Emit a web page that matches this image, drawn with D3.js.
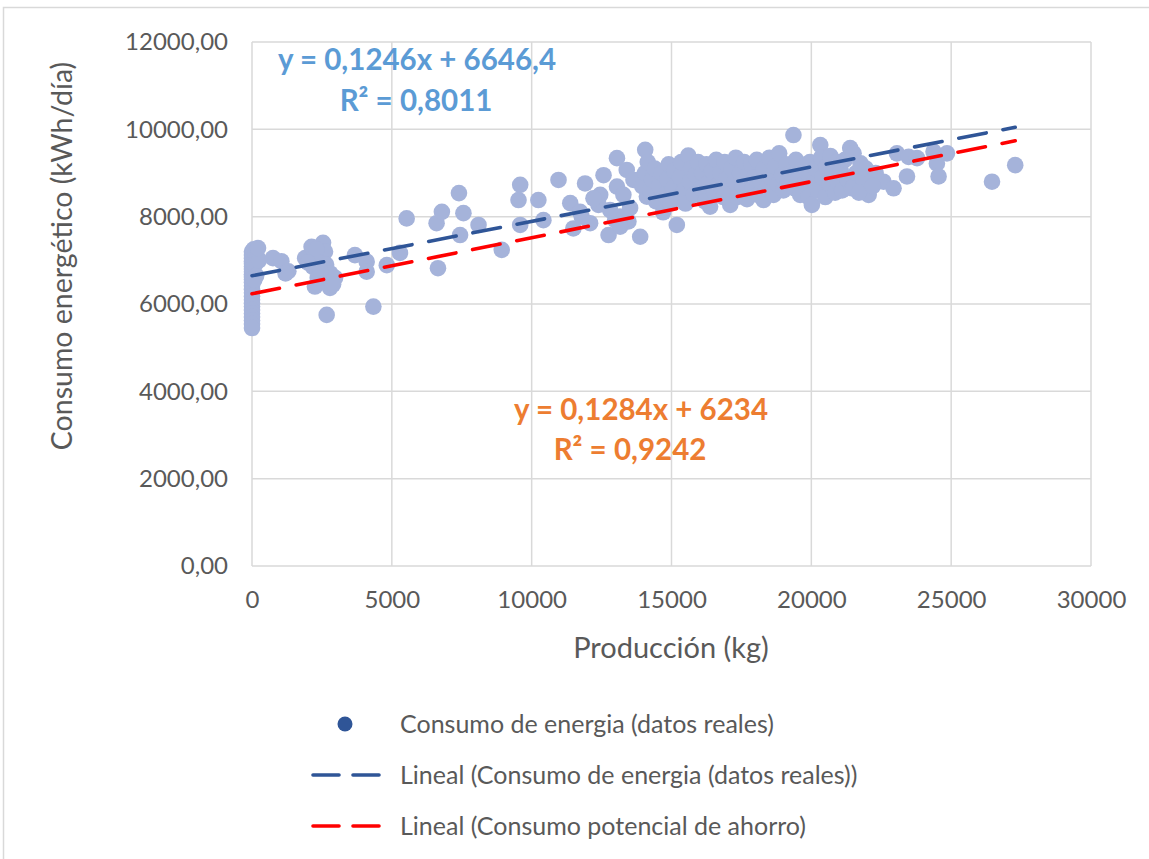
<!DOCTYPE html>
<html>
<head>
<meta charset="utf-8">
<script src="https://cdn.jsdelivr.net/npm/d3@7"></script>
<style>
  html, body { margin: 0; padding: 0; background: #ffffff; }
  svg { display: block; font-family: Lato, "Liberation Sans", sans-serif; }
</style>
</head>
<body>
<svg id="chart" width="1149" height="859"></svg>
<script>
// Producción (kg) de cada día
const production = [
  0, 0, 0, 0, 0, 0, 0, 0, 0, 0, 0, 0, 0, 0, 0, 0, 0, 0, 0, 0, 0, 0, 0, 0, 0,
  60, 120, 200, 100, 150, 80, 250, 215,
  750, 1050, 1300, 1200,
  1900, 2130, 2540, 2610, 2180, 2250, 2790, 2970, 2610, 2670, 2300, 2400, 2650, 2800, 2350, 2000, 2450, 2900,
  3680, 4100, 4100, 4340, 4820, 5530, 5290,
  6650, 6600, 6790, 7400, 7560, 7440, 8100,
  8930, 9590, 9530, 9590, 10240, 10420, 10960, 11380, 11490, 11910, 11790, 12090, 12570, 12450, 12750,
  13050, 13050, 13400, 13760, 13880, 13460, 14060, 14120, 13160, 12390, 12210, 11730,
  13640, 13280, 13520, 12985, 13164, 12806,
  13950, 14050, 14150, 14250, 14300, 14400, 14450, 14550, 14650, 14700, 14750, 14850, 14900, 14950,
  15050, 15100, 15190, 15200, 15300, 15350, 15450, 15500, 15600, 15650, 15700, 15800, 15850, 15950,
  16050, 16100, 16200, 16250, 16350, 16380, 16450, 16550, 16600, 16700, 16750, 16850, 16900, 16950,
  17050, 17100, 17150, 17250, 17300, 17350, 17450, 17550, 17600, 17700, 17750, 17850, 17900, 17950,
  18050, 18100, 18200, 18290, 18300, 18400, 18500, 18550, 18650, 18700, 18800, 18850, 18950, 19000,
  19100, 19150, 19250, 19360, 19400, 19450, 19550, 19600, 19700, 19750, 19850, 19900, 20020, 19950,
  20100, 20150, 20250, 20320, 20350, 20400, 20500, 20550, 20650, 20680, 20750, 20850, 20900, 20950,
  21050, 21100, 21200, 21300, 21390, 21450, 21510, 21510, 21600, 21760, 21870, 22050, 21700, 21950,
  22580, 22940, 23060, 23480, 23420, 23780, 24370, 24490, 24550, 24850, 22300, 22200,
  26460, 27290
];

// Consumo energético (kWh/día) de esos mismos días
const consumption = [
  7200, 7120, 7050, 6980, 6920, 6860, 6800, 6740, 6680, 6620, 6560, 6500, 6420, 6340, 6260, 6180, 6100, 6020, 5940, 5860, 5780, 5700, 5620, 5540, 5450,
  7250, 7150, 7050, 6900, 6650, 6550, 7000, 7280,
  7050, 6980, 6750, 6700,
  7050, 7310, 7400, 7200, 6850, 6400, 6370, 6600, 6600, 5750, 7250, 6950, 6900, 6700, 6600, 6950, 6750, 6450,
  7120, 6970, 6740, 5940, 6890, 7960, 7170,
  6820, 7850, 8110, 8540, 8080, 7580, 7810,
  7240, 8730, 8380, 7810, 8380, 7920, 8840, 8310, 7730, 8760, 8000, 7850, 8950, 8500, 7580,
  9340, 8690, 9070, 8840, 7540, 7890, 9530, 8460, 8000, 8270, 8420, 8110,
  8840, 8500, 8200, 7920, 7770, 8150,
  8700, 9000, 9250, 8600, 8850, 9100, 8350, 8700, 9000, 8100, 8500, 8850, 9200, 8300,
  8650, 9050, 7810, 8450, 8900, 9250, 8600, 8300, 9400, 8800, 9100, 8500, 8950, 9250,
  8650, 9000, 8350, 9200, 8800, 8230, 9050, 8550, 9300, 8750, 9000, 8450, 9250, 8850,
  8600, 8270, 9100, 8800, 9350, 8450, 9000, 8700, 9250, 8400, 8950, 9200, 8650, 8900,
  9300, 8500, 8800, 8380, 9100, 8650, 9350, 8900, 8500, 9150, 8750, 9450, 8950, 8600,
  9200, 8800, 9000, 9870, 8650, 9300, 8900, 8500, 9150, 8750, 9000, 8450, 8270, 9250,
  8800, 9100, 8600, 9640, 9350, 8900, 8450, 9150, 8750, 9390, 9000, 8550, 9250, 8800,
  9050, 8600, 9300, 8850, 9570, 8650, 9450, 8690, 9000, 9220, 8840, 8500, 8550, 9100,
  8800, 8650, 9450, 9370, 8920, 9340, 9490, 9220, 8920, 9450, 9000, 8700,
  8800, 9180
];

// Rectas de tendencia lineal: consumo real y consumo potencial de ahorro
const trendNames = ["Lineal (Consumo de energia (datos reales))", "Lineal (Consumo potencial de ahorro)"];
const trendSlopes = [0.1246, 0.1284];
const trendIntercepts = [6646.4, 6234];
const trendR2 = [0.8011, 0.9242];
const trendColors = ["#2f5597", "#ff0000"];
const equationColors = ["#5b9bd5", "#ed7d31"];

const seriesName = "Consumo de energia (datos reales)";
const xTicks = [0, 5000, 10000, 15000, 20000, 25000, 30000];
const yTicks = [0, 2000, 4000, 6000, 8000, 10000, 12000];

const svg = d3.select("#chart");
const textColor = "#595959";
const gridColor = "#d9d9d9";

// Marco exterior del gráfico
svg.append("rect")
  .attr("x", 3.5).attr("y", 7.5)
  .attr("width", 1180).attr("height", 900)
  .attr("fill", "none").attr("stroke", gridColor).attr("stroke-width", 1.5);

const plot = { left: 252, right: 1091, top: 42, bottom: 566 };
const x = d3.scaleLinear().domain([0, 30000]).range([plot.left, plot.right]);
const y = d3.scaleLinear().domain([0, 12000]).range([plot.bottom, plot.top]);

// Cuadrícula
const grid = svg.append("g");
grid.selectAll("line.h").data(yTicks).join("line")
  .attr("x1", plot.left).attr("x2", plot.right)
  .attr("y1", d => y(d)).attr("y2", d => y(d))
  .attr("stroke", gridColor).attr("stroke-width", 1.5);
grid.selectAll("line.v").data(xTicks).join("line")
  .attr("y1", plot.top).attr("y2", plot.bottom)
  .attr("x1", d => x(d)).attr("x2", d => x(d))
  .attr("stroke", gridColor).attr("stroke-width", 1.5);

// Ejes con formato de coma decimal
const fmtY = d => d3.format(".2f")(d).replace(".", ",");
const yAxis = svg.append("g")
  .attr("transform", `translate(${plot.left - 24},0)`)
  .call(d3.axisLeft(y).tickValues(yTicks).tickFormat(fmtY).tickSize(0).tickPadding(0));
const xAxis = svg.append("g")
  .attr("transform", `translate(0,${plot.bottom + 24})`)
  .call(d3.axisBottom(x).tickValues(xTicks).tickFormat(d3.format("d")).tickSize(0).tickPadding(0));
[yAxis, xAxis].forEach(a => {
  a.select(".domain").remove();
  a.selectAll("text")
    .attr("fill", textColor)
    .style("font-family", "Lato, 'Liberation Sans', sans-serif")
    .style("font-size", "24px");
});
xAxis.selectAll("text").attr("dy", "0.75em");

// Títulos de los ejes
svg.append("text")
  .attr("transform", `translate(72,256) rotate(-90)`)
  .attr("text-anchor", "middle")
  .attr("fill", textColor)
  .style("font-size", "28.5px")
  .text("Consumo energético (kWh/día)");
svg.append("text")
  .attr("x", 671).attr("y", 658)
  .attr("text-anchor", "middle")
  .attr("fill", textColor)
  .style("font-size", "29px")
  .text("Producción (kg)");

// Puntos de datos
svg.append("g").selectAll("circle")
  .data(production.map((p, i) => [p, consumption[i]]))
  .join("circle")
  .attr("cx", d => x(d[0]))
  .attr("cy", d => y(d[1]))
  .attr("r", 8.3)
  .attr("fill", "#a5b3da");

// Rectas de tendencia sobre el rango de producción observado
const xMin = d3.min(production), xMax = d3.max(production);
trendSlopes.forEach((m, i) => {
  const b = trendIntercepts[i];
  svg.append("line")
    .attr("x1", x(xMin)).attr("y1", y(m * xMin + b))
    .attr("x2", x(xMax)).attr("y2", y(m * xMax + b))
    .attr("stroke", trendColors[i])
    .attr("stroke-width", 3.6)
    .attr("stroke-linecap", "round")
    .attr("stroke-dasharray", "28,17");
});

// Ecuaciones y R² de las tendencias
const fmtNum = v => String(v).replace(".", ",");
const eqPos = [[417, 70, 416, 111], [641, 420, 630, 460]];
trendSlopes.forEach((m, i) => {
  const g = svg.append("g")
    .attr("fill", equationColors[i])
    .style("font-weight", "bold")
    .style("font-size", "29.5px")
    .attr("text-anchor", "middle");
  g.append("text").attr("x", eqPos[i][0]).attr("y", eqPos[i][1])
    .text(`y = ${fmtNum(m)}x + ${fmtNum(trendIntercepts[i])}`);
  g.append("text").attr("x", eqPos[i][2]).attr("y", eqPos[i][3])
    .text(`R² = ${fmtNum(trendR2[i])}`);
});

// Leyenda
const legend = svg.append("g").style("font-size", "25px").attr("fill", textColor);
const rows = [724, 775, 826];
legend.append("circle").attr("cx", 345).attr("cy", rows[0]).attr("r", 7.5).attr("fill", "#2f5597");
legend.append("text").attr("x", 400).attr("y", rows[0]).attr("dy", "0.35em").text(seriesName);
trendNames.forEach((name, i) => {
  legend.append("line")
    .attr("x1", 313).attr("x2", 380)
    .attr("y1", rows[i + 1]).attr("y2", rows[i + 1])
    .attr("stroke", trendColors[i])
    .attr("stroke-width", 3.6)
    .attr("stroke-linecap", "round")
    .attr("stroke-dasharray", "26,14");
  legend.append("text").attr("x", 400).attr("y", rows[i + 1]).attr("dy", "0.35em").text(name);
});
</script>
</body>
</html>
